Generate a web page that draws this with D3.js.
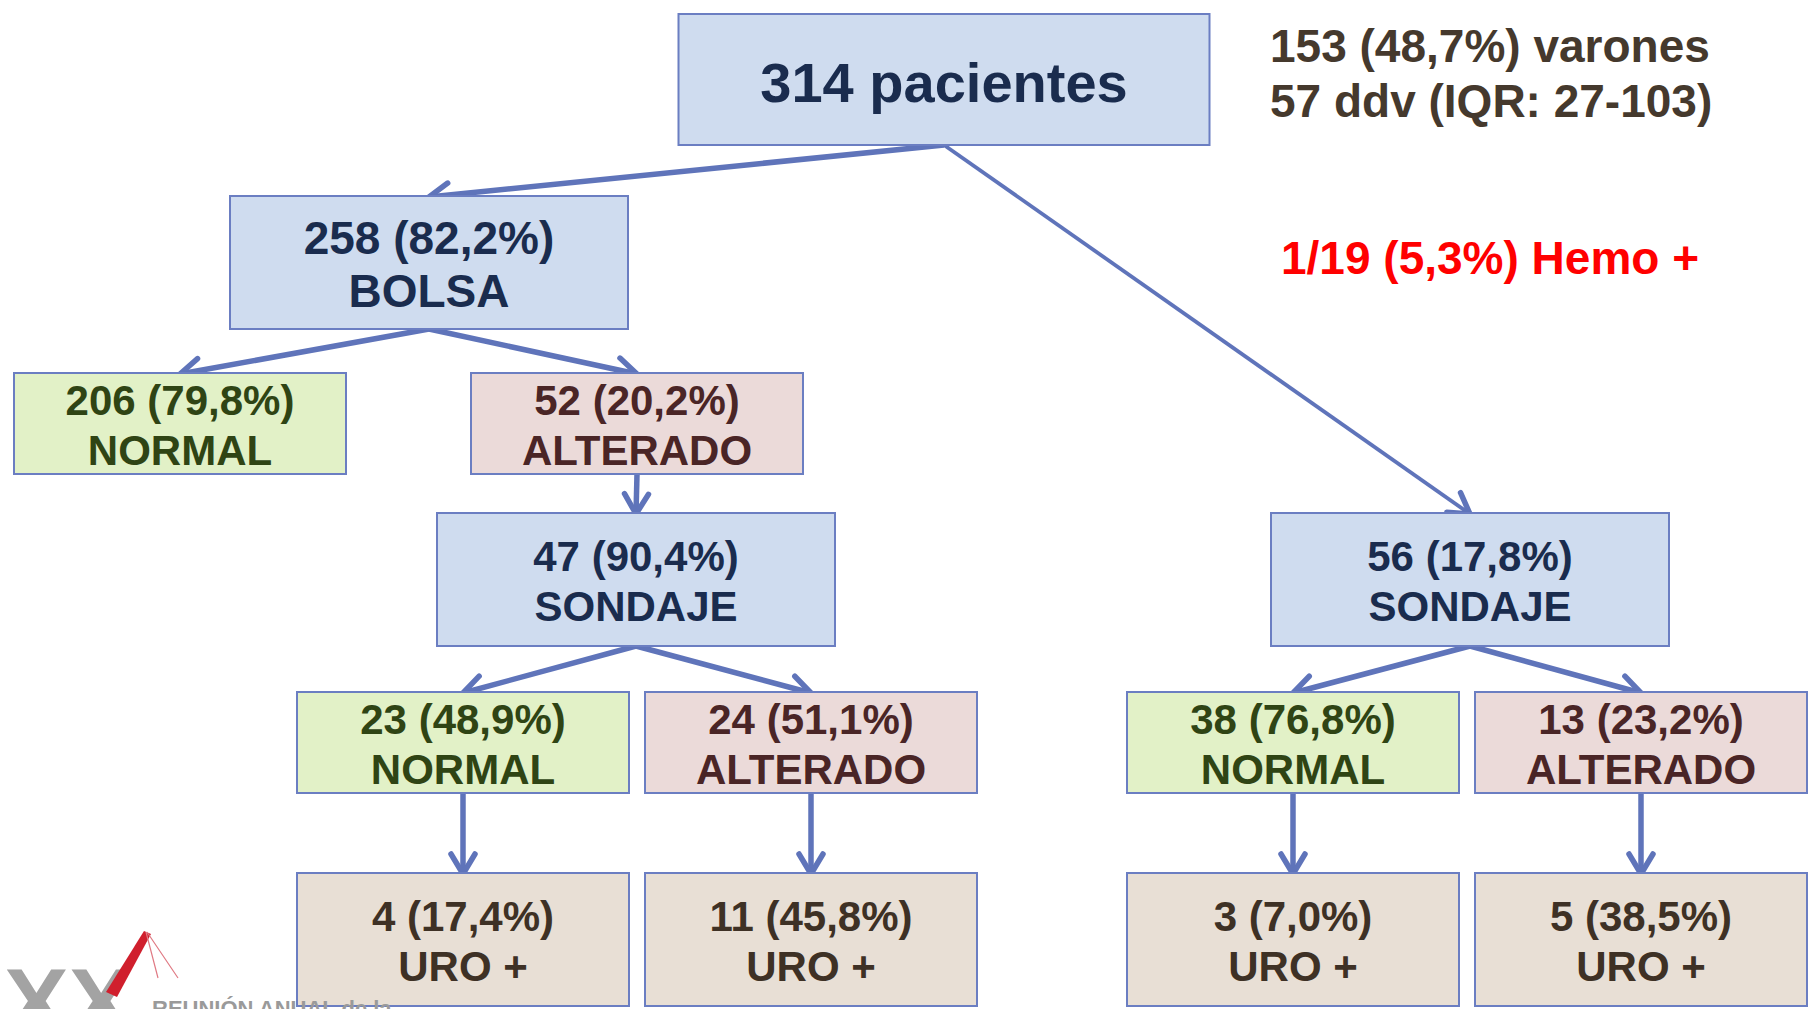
<!DOCTYPE html>
<html>
<head>
<meta charset="utf-8">
<script src="https://cdn.jsdelivr.net/npm/d3@7"></script>
<style>
  body { margin: 0; background: #fff; }
  svg text { font-family: "Liberation Sans", Arial, sans-serif; font-weight: bold; }
</style>
</head>
<body>
<svg id="flujo"></svg>
<script>
var W = 1809, H = 1009;

// nodos del diagrama
var nodeIds   = ["total", "bolsa", "bolsaNormal", "bolsaAlterado", "sondajeA", "sondajeANormal", "sondajeAAlterado", "uroANormal", "uroAAlterado", "sondajeB", "sondajeBNormal", "sondajeBAlterado", "uroBNormal", "uroBAlterado"];
var parentIds = [null, "total", "bolsa", "bolsa", "bolsaAlterado", "sondajeA", "sondajeA", "sondajeANormal", "sondajeAAlterado", "total", "sondajeB", "sondajeB", "sondajeBNormal", "sondajeBAlterado"];
var counts    = [314, 258, 206, 52, 47, 23, 24, 4, 11, 56, 38, 13, 3, 5];
var percents  = [null, "82,2", "79,8", "20,2", "90,4", "48,9", "51,1", "17,4", "45,8", "17,8", "76,8", "23,2", "7,0", "38,5"];
var labels    = ["pacientes", "BOLSA", "NORMAL", "ALTERADO", "SONDAJE", "NORMAL", "ALTERADO", "URO +", "URO +", "SONDAJE", "NORMAL", "ALTERADO", "URO +", "URO +"];
var kinds     = ["raiz", "grupo", "normal", "alterado", "grupo", "normal", "alterado", "uro", "uro", "grupo", "normal", "alterado", "uro", "uro"];

// notas laterales
var notaLineas = ["153 (48,7%) varones", "57 ddv (IQR: 27-103)"];
var notaHemo = "1/19 (5,3%) Hemo +";

// maquetacion (fila y centro de columna de cada nodo)
var nodeRow  = [0, 1, 2, 2, 3, 4, 4, 5, 5, 3, 4, 4, 5, 5];
var nodeCol  = [944, 429, 180, 637, 636, 463, 811, 463, 811, 1470, 1293, 1641, 1293, 1641];
var rowTops  = [14, 196, 373, 513, 692, 873];
var rowFont  = [56, 46, 42, 42, 42, 42];

var tamanos = {
    raiz:     { w: 531, h: 131 },
    grupo:    { w: 398, h: 133 },
    normal:   { w: 332, h: 101 },
    alterado: { w: 332, h: 101 },
    uro:      { w: 332, h: 133 }
};
var estilos = {
    raiz:     { fill: "#cfdcef", text: "#1a2c4e" },
    grupo:    { fill: "#cfdcef", text: "#1a2c4e" },
    normal:   { fill: "#e2f1c7", text: "#2f4414" },
    alterado: { fill: "#ebdad9", text: "#4a2526" },
    uro:      { fill: "#e8dfd5", text: "#3e3125" }
};
var colorBorde = "#6b7ec2";
var colorFlecha = "#5f74ba";

var x = d3.scaleLinear().domain([0, W]).range([0, W]);
var y = d3.scaleOrdinal().domain(d3.range(rowTops.length)).range(rowTops);

var svg = d3.select("#flujo").attr("width", W).attr("height", H);
svg.append("rect").attr("width", W).attr("height", H).attr("fill", "#fff");

var nodos = nodeIds.map(function (id, i) {
    var t = tamanos[kinds[i]];
    return {
        id: id,
        parent: parentIds[i],
        count: counts[i],
        pct: percents[i],
        label: labels[i],
        kind: kinds[i],
        cx: x(nodeCol[i]),
        top: y(nodeRow[i]),
        w: t.w,
        h: t.h,
        font: rowFont[nodeRow[i]]
    };
});

var raiz = d3.stratify().id(function (d) { return d.id; }).parentId(function (d) { return d.parent; })(nodos);

// punta de flecha
svg.append("defs").append("marker")
    .attr("id", "punta")
    .attr("viewBox", "-28 -18 36 36")
    .attr("refX", 0).attr("refY", 0)
    .attr("markerWidth", 36).attr("markerHeight", 36)
    .attr("markerUnits", "userSpaceOnUse")
    .attr("orient", "auto")
    .append("path")
    .attr("d", "M-20,-12L0,0L-20,12")
    .attr("fill", "none")
    .attr("stroke", colorFlecha)
    .attr("stroke-width", 5.5)
    .attr("stroke-linecap", "round")
    .attr("stroke-linejoin", "round");

// flechas
svg.append("g").selectAll("line")
    .data(raiz.links())
    .enter()
    .append("line")
    .attr("x1", function (d) { return d.source.data.cx; })
    .attr("y1", function (d) { return d.source.data.top + d.source.data.h; })
    .attr("x2", function (d) { return d.target.data.cx; })
    .attr("y2", function (d) { return d.target.data.top + 1; })
    .attr("stroke", colorFlecha)
    .attr("stroke-width", function (d) { return d.target.data.id === "sondajeB" ? 3.8 : 5.5; })
    .attr("marker-end", "url(#punta)");

// cajas
var cajas = svg.append("g").selectAll("g")
    .data(nodos)
    .enter()
    .append("g")
    .attr("transform", function (d) { return "translate(" + (d.cx - d.w / 2) + "," + d.top + ")"; });

cajas.append("rect")
    .attr("width", function (d) { return d.w; })
    .attr("height", function (d) { return d.h; })
    .attr("fill", function (d) { return estilos[d.kind].fill; })
    .attr("stroke", colorBorde)
    .attr("stroke-width", 2);

cajas.each(function (d) {
    var g = d3.select(this);
    var cap = d.font * 0.716;
    if (d.kind === "raiz") {
        g.append("text")
            .attr("x", d.w / 2).attr("y", d.h / 2 + 22)
            .attr("text-anchor", "middle")
            .attr("font-size", d.font)
            .attr("fill", estilos[d.kind].text)
            .text(d.count + " " + d.label);
        return;
    }
    var gap = d.font * 1.17;
    var b1 = d.h / 2 - gap / 2 + cap / 2 + 1.5;
    var lineas = [d.count + " (" + d.pct + "%)", d.label];
    g.selectAll("text.linea")
        .data(lineas)
        .enter()
        .append("text")
        .attr("class", "linea")
        .attr("x", d.w / 2)
        .attr("y", function (t, i) { return b1 + i * gap; })
        .attr("text-anchor", "middle")
        .attr("font-size", d.font)
        .attr("fill", estilos[d.kind].text)
        .text(function (t) { return t; });
});

// notas
svg.append("g").selectAll("text")
    .data(notaLineas)
    .enter()
    .append("text")
    .attr("x", 1270)
    .attr("y", function (t, i) { return 62 + i * 55; })
    .attr("font-size", 46)
    .attr("fill", "#45392d")
    .text(function (t) { return t; });

svg.append("text")
    .attr("x", 1281).attr("y", 274)
    .attr("font-size", 46)
    .attr("fill", "#ff0000")
    .text(notaHemo);

// logo inferior izquierdo
var logo = svg.append("g").attr("class", "logo");
logo.append("text").attr("x", 4).attr("y", 1036)
    .attr("font-size", 97).attr("fill", "#a3a3a3").text("XX");
logo.append("path")
    .attr("d", "M106,992L144,931L151,934L117,997Z")
    .attr("fill", "#d01f2d");
logo.append("path")
    .attr("d", "M146,932L158,978M147,932L178,978")
    .attr("stroke", "#e07a84").attr("stroke-width", 1.2).attr("fill", "none");
logo.append("text").attr("x", 152).attr("y", 1016)
    .attr("font-size", 22).attr("fill", "#9a9a9a").text("REUNIÓN ANUAL de la");
</script>
</body>
</html>
